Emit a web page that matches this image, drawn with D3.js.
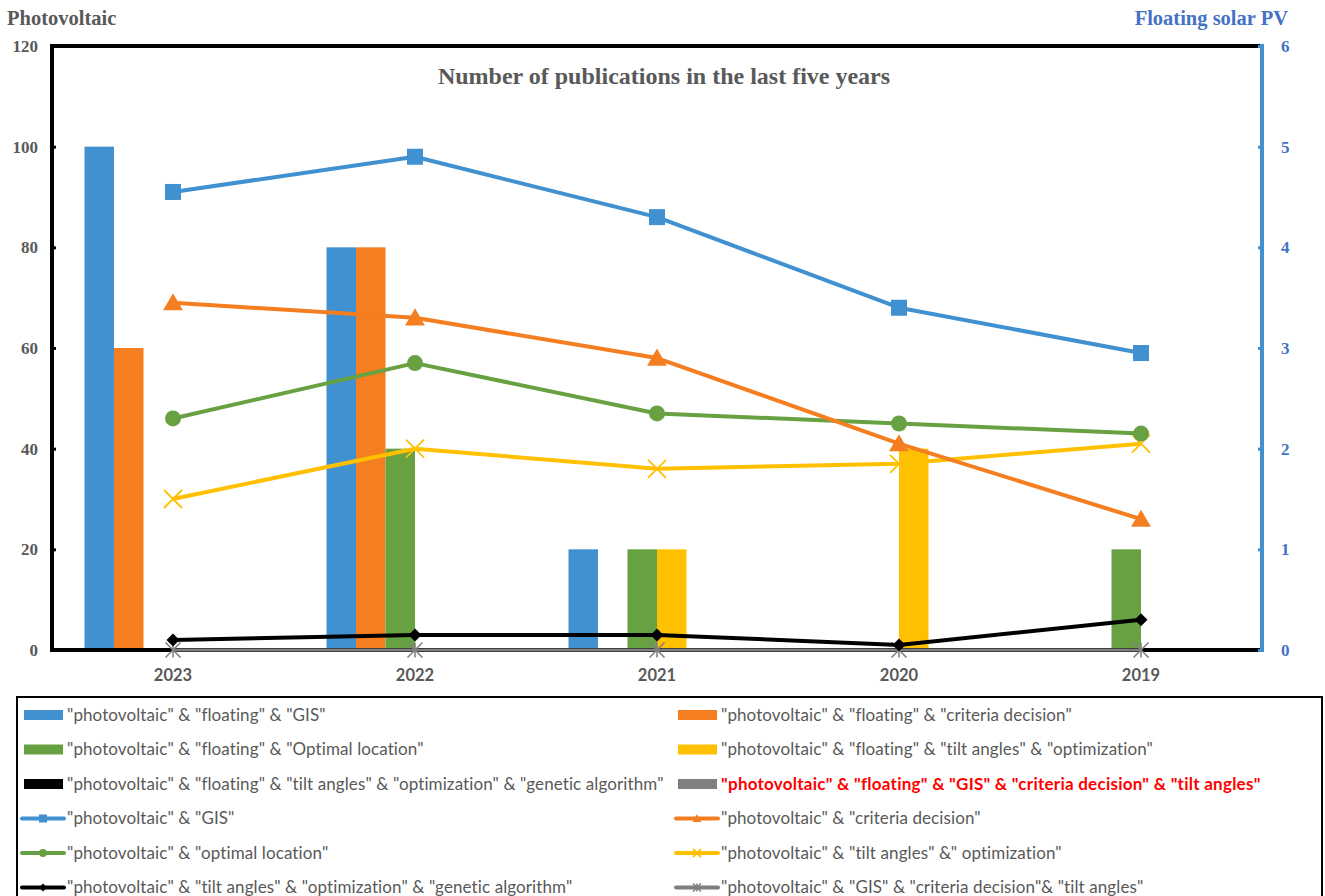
<!DOCTYPE html>
<html>
<head>
<meta charset="utf-8">
<script src="https://cdn.jsdelivr.net/npm/d3@7"></script>
<style>
  html, body { margin: 0; padding: 0; background: #fff; }
  svg { display: block; }
</style>
</head>
<body>
<svg id="chart" width="1325" height="896"></svg>
<script>
// Publication years (x categories)
const years = ["2023", "2022", "2021", "2020", "2019"];

// Bar series – "floating solar PV" searches (right axis)
const barNames = [
  '"photovoltaic" & "floating" & "GIS"',
  '"photovoltaic" & "floating" & "criteria decision"',
  '"photovoltaic" & "floating" & "Optimal location"',
  '"photovoltaic" & "floating" & "tilt angles" & "optimization"',
  '"photovoltaic" & "floating" & "tilt angles" & "optimization" & "genetic algorithm"',
  '"photovoltaic" & "floating" & "GIS" & "criteria decision" & "tilt angles"'
];
const barFloatGIS      = [5, 4, 1, 0, 0];
const barFloatCriteria = [3, 4, 0, 0, 0];
const barFloatOptimal  = [0, 2, 1, 0, 1];
const barFloatTilt     = [0, 0, 1, 2, 0];
const barFloatGenetic  = [0, 0, 0, 0, 0];
const barFloatAll      = [0, 0, 0, 0, 0];

// Line series – "photovoltaic" searches (left axis)
const lineNames = [
  '"photovoltaic" & "GIS"',
  '"photovoltaic" & "criteria decision"',
  '"photovoltaic" & "optimal location"',
  '"photovoltaic" & "tilt angles" &" optimization"',
  '"photovoltaic" & "tilt angles" & "optimization" & "genetic algorithm"',
  '"photovoltaic" & "GIS" & "criteria decision"& "tilt angles"'
];
const linePvGIS      = [91, 98, 86, 68, 59];
const linePvCriteria = [69, 66, 58, 41, 26];
const linePvOptimal  = [46, 57, 47, 45, 43];
const linePvTilt     = [30, 40, 36, 37, 41];
const linePvGenetic  = [2, 3, 3, 1, 6];
const linePvAll      = [0, 0, 0, 0, 0];

// Axis ticks
const leftTicks  = [0, 20, 40, 60, 80, 100, 120];
const rightTicks = [0, 1, 2, 3, 4, 5, 6];

const colors = ["#4190cf", "#f47e20", "#68a142", "#ffc000", "#000000", "#7f7f7f"];
const markers = ["square", "triangle", "circle", "x", "diamond", "asterisk"];

const barSeries = [barFloatGIS, barFloatCriteria, barFloatOptimal, barFloatTilt, barFloatGenetic, barFloatAll];
const lineSeries = [linePvGIS, linePvCriteria, linePvOptimal, linePvTilt, linePvGenetic, linePvAll];

const svg = d3.select("#chart");
const plot = { left: 52, right: 1262, top: 46, bottom: 650 };

const x = d3.scaleBand().domain(years).range([plot.left, plot.right]);
const xInner = d3.scaleBand().domain(d3.range(6)).range([32.5, x.bandwidth() - 32.5]);
const yLeft = d3.scaleLinear().domain([0, 120]).range([plot.bottom, plot.top]);
const yRight = d3.scaleLinear().domain([0, 6]).range([plot.bottom, plot.top]);

const serif = "'Liberation Serif', 'Times New Roman', serif";
const sans = "Lato, 'Noto Sans', sans-serif";
const grayText = "#595959";
const blueText = "#4472c4";

// Title
svg.append("text")
  .attr("x", 664)
  .attr("y", 84)
  .attr("text-anchor", "middle")
  .style("font-family", serif)
  .style("font-weight", "bold")
  .style("font-size", "24px")
  .style("fill", grayText)
  .text("Number of publications in the last five years");

// Axis titles
svg.append("text").attr("x", 7).attr("y", 25)
  .style("font-family", serif).style("font-weight", "bold").style("font-size", "20.5px")
  .style("fill", grayText).text("Photovoltaic");
svg.append("text").attr("x", 1288).attr("y", 25).attr("text-anchor", "end")
  .style("font-family", serif).style("font-weight", "bold").style("font-size", "20.5px")
  .style("fill", blueText).text("Floating solar PV");

// Bars
const barGroup = svg.append("g");
years.forEach((yr, i) => {
  barSeries.forEach((s, k) => {
    barGroup.append("rect")
      .attr("x", x(yr) + xInner(k))
      .attr("width", xInner.bandwidth())
      .attr("y", yRight(s[i]))
      .attr("height", yRight(0) - yRight(s[i]))
      .attr("fill", colors[k]);
  });
});

// Frame: top and left black, bottom axis black
svg.append("line").attr("x1", plot.left).attr("x2", plot.right).attr("y1", plot.top).attr("y2", plot.top)
  .attr("stroke", "#000").attr("stroke-width", 4);
svg.append("line").attr("x1", plot.left).attr("x2", plot.left).attr("y1", plot.top - 2).attr("y2", plot.bottom + 2)
  .attr("stroke", "#000").attr("stroke-width", 4);
svg.append("line").attr("x1", plot.left).attr("x2", plot.right).attr("y1", plot.bottom).attr("y2", plot.bottom)
  .attr("stroke", "#000").attr("stroke-width", 4);

// Left axis ticks & labels
const leftAxis = d3.axisRight(yLeft).tickValues(leftTicks).tickSize(4).tickFormat("");
const gL = svg.append("g").attr("transform", `translate(${plot.left},0)`).call(leftAxis);
gL.select(".domain").remove();
gL.selectAll(".tick line").attr("stroke", "#000").attr("stroke-width", 3);
leftTicks.forEach(t => {
  svg.append("text").attr("x", 38).attr("y", yLeft(t)).attr("dy", "0.35em")
    .attr("text-anchor", "end")
    .style("font-family", serif).style("font-weight", "bold").style("font-size", "17px")
    .style("fill", grayText).text(t);
});

// Right axis line, ticks & labels
svg.append("line").attr("x1", plot.right).attr("x2", plot.right).attr("y1", plot.top - 2).attr("y2", plot.bottom + 2)
  .attr("stroke", "#4190cf").attr("stroke-width", 4);
const rightAxis = d3.axisLeft(yRight).tickValues(rightTicks).tickSize(4).tickFormat("");
const gR = svg.append("g").attr("transform", `translate(${plot.right},0)`).call(rightAxis);
gR.select(".domain").remove();
gR.selectAll(".tick line").attr("stroke", "#4190cf").attr("stroke-width", 3);
rightTicks.forEach(t => {
  svg.append("text").attr("x", 1281).attr("y", yRight(t)).attr("dy", "0.35em")
    .style("font-family", serif).style("font-weight", "bold").style("font-size", "17px")
    .style("fill", blueText).text(t);
});

// X labels
years.forEach(yr => {
  svg.append("text").attr("x", x(yr) + x.bandwidth() / 2).attr("y", 675).attr("dy", "0.35em")
    .attr("text-anchor", "middle")
    .style("font-family", sans).style("font-weight", "bold").style("font-size", "16.5px")
    .style("fill", grayText).text(yr);
});

// Marker drawing
function drawMarker(g, type, cx, cy, size, color) {
  const h = size / 2;
  if (type === "square") {
    g.append("rect").attr("x", cx - h).attr("y", cy - h).attr("width", size).attr("height", size).attr("fill", color);
  } else if (type === "triangle") {
    g.append("path").attr("d", `M${cx},${cy - h * 1.05}L${cx + h * 1.1},${cy + h * 0.85}L${cx - h * 1.1},${cy + h * 0.85}Z`).attr("fill", color);
  } else if (type === "circle") {
    g.append("circle").attr("cx", cx).attr("cy", cy).attr("r", h).attr("fill", color);
  } else if (type === "x") {
    g.append("path").attr("d", `M${cx - h},${cy - h}L${cx + h},${cy + h}M${cx - h},${cy + h}L${cx + h},${cy - h}`)
      .attr("stroke", color).attr("stroke-width", 1.8).attr("fill", "none");
  } else if (type === "diamond") {
    g.append("path").attr("d", `M${cx},${cy - h}L${cx + h},${cy}L${cx},${cy + h}L${cx - h},${cy}Z`).attr("fill", color);
  } else if (type === "asterisk") {
    g.append("path").attr("d", `M${cx - h},${cy - h}L${cx + h},${cy + h}M${cx - h},${cy + h}L${cx + h},${cy - h}M${cx},${cy - h}L${cx},${cy + h}`)
      .attr("stroke", color).attr("stroke-width", 1.5).attr("fill", "none");
  }
}

// Lines (drawn last-to-first so the blue series sits on top)
const lineGen = d3.line().x((d, i) => x(years[i]) + x.bandwidth() / 2).y(d => yLeft(d));
const markerSizes = [16, 18, 16, 18, 13, 15];
const lineGroup = svg.append("g");
for (let k = lineSeries.length - 1; k >= 0; k--) {
  const s = lineSeries[k];
  lineGroup.append("path").datum(s).attr("d", lineGen)
    .attr("fill", "none").attr("stroke", colors[k])
    .attr("stroke-width", k === 5 ? 3 : 4).attr("stroke-linejoin", "round");
  s.forEach((v, i) => drawMarker(lineGroup, markers[k], x(years[i]) + x.bandwidth() / 2, yLeft(v), markerSizes[k], colors[k]));
}

// Legend
const legend = svg.append("g");
legend.append("rect").attr("x", 17).attr("y", 697).attr("width", 1305).attr("height", 210)
  .attr("fill", "none").attr("stroke", "#000").attr("stroke-width", 2);
const rowY = [715, 749.5, 784, 818.5, 853, 887.5];
const colX = [{ sw: 23, tx: 67 }, { sw: 677, tx: 721 }];
const legendItems = [];
for (let k = 0; k < 6; k++) legendItems.push({ name: barNames[k], kind: "bar", k });
for (let k = 0; k < 6; k++) legendItems.push({ name: lineNames[k], kind: "line", k });
legendItems.forEach((item, idx) => {
  const row = Math.floor(idx / 2), col = idx % 2;
  const cy = rowY[row], c = colX[col];
  if (item.kind === "bar") {
    legend.append("rect").attr("x", c.sw + 1).attr("y", cy - 5).attr("width", 39).attr("height", 10).attr("fill", colors[item.k]);
  } else {
    legend.append("line").attr("x1", c.sw - 1).attr("x2", c.sw + 41).attr("y1", cy).attr("y2", cy)
      .attr("stroke", colors[item.k]).attr("stroke-width", 4).attr("stroke-linecap", "round");
    drawMarker(legend, markers[item.k], c.sw + 20, cy, 8, colors[item.k]);
  }
  const special = item.kind === "bar" && item.k === 5;
  legend.append("text").attr("x", c.tx).attr("y", cy).attr("dy", "0.35em")
    .style("font-family", sans).style("font-size", "17px")
    .style("letter-spacing", special ? "0.25px" : "0.1px")
    .style("font-weight", special ? "bold" : "normal")
    .style("fill", special ? "#ff0000" : grayText)
    .text(item.name);
});
</script>
</body>
</html>
